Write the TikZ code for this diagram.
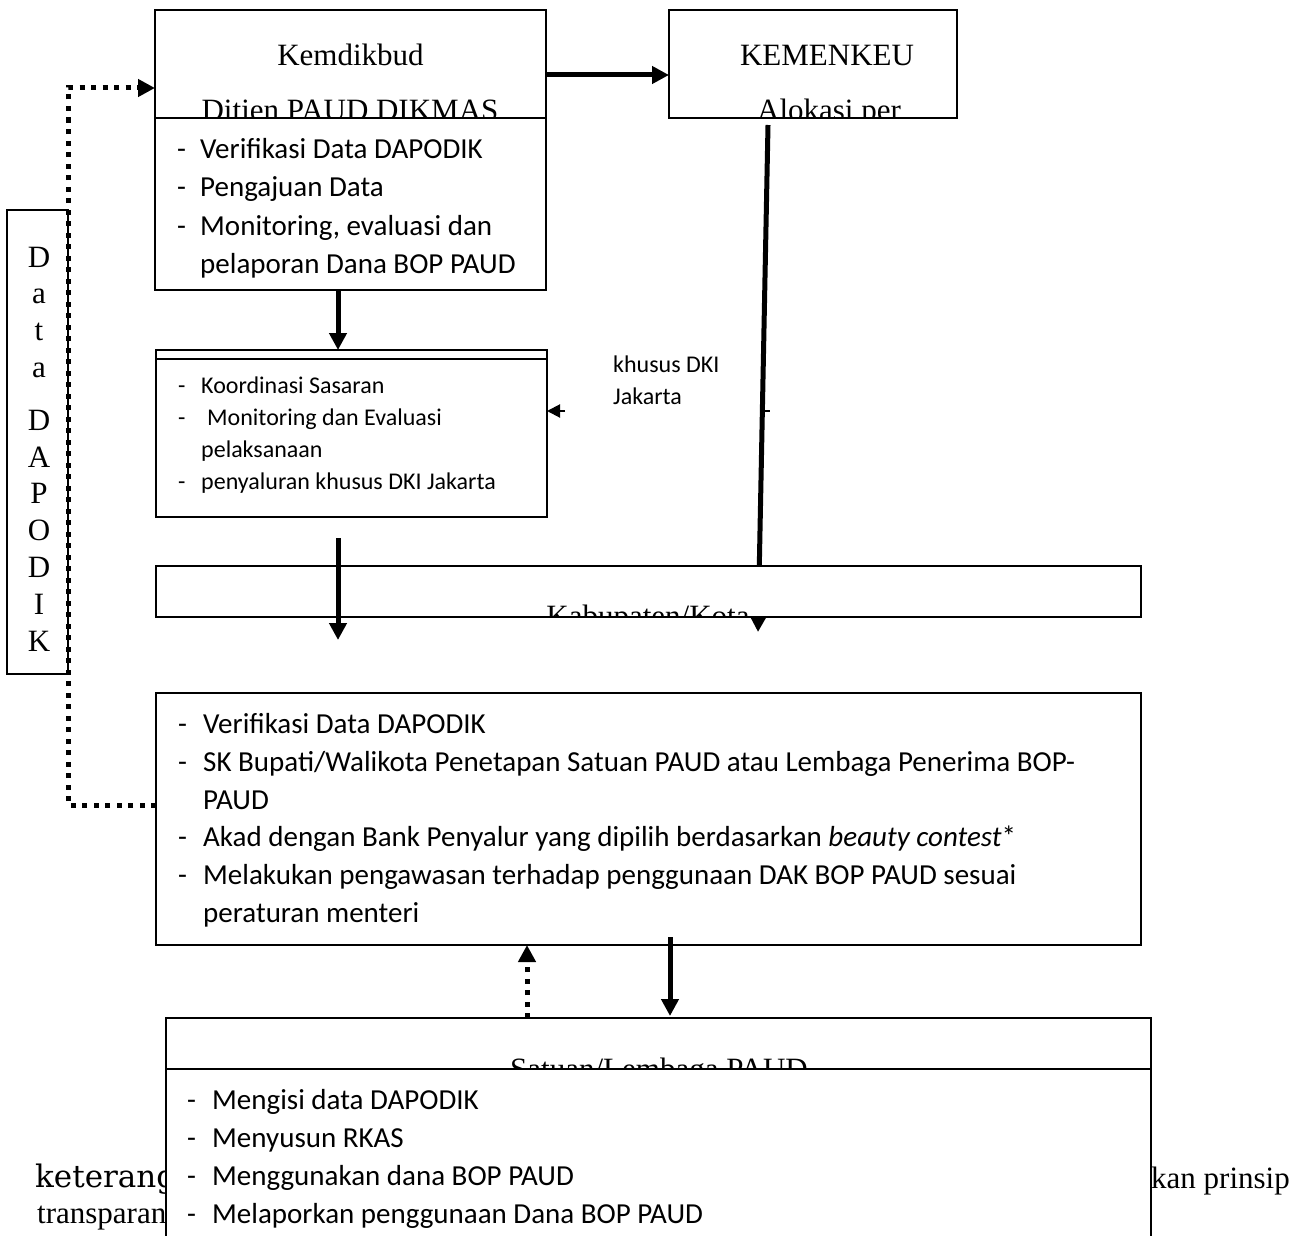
\documentclass[tikz,border=0pt]{standalone}
\usepackage{fontspec}
\setmainfont{Liberation Serif}
\newfontfamily\calfont{Carlito}
\newfontfamily\dvfont{DejaVu Serif}
\usetikzlibrary{arrows.meta}
\tikzset{
 boxn/.style={draw, line width=1.8pt, fill=white, inner sep=0pt, outer sep=0pt, anchor=north west},
 ttl/.style={font=\fontsize{31}{37}\selectfont, inner sep=0pt, anchor=base},
 lst/.style={font=\calfont\fontsize{29}{38}\selectfont, inner sep=0pt, anchor=base west},
 lsts/.style={font=\calfont\fontsize{24}{32}\selectfont, inner sep=0pt, anchor=base west},
 bigarrow/.style={line width=5pt, -{Triangle[length=17pt,width=17pt]}},
 dotarrow/.style={line width=5pt, dash pattern=on 5pt off 6.5pt, -{Triangle[length=17pt,width=17pt]}},
}
\begin{document}
\begin{tikzpicture}[x=1pt,y=-1pt]
\useasboundingbox (0,0) rectangle (1303,1236);
\clip (0,0) rectangle (1303,1236);

% background text partly hidden by the last box
\node[font=\dvfont\fontsize{31}{36}\selectfont, inner sep=0pt, anchor=base west] (ket) at (35,1187) {keterang};
\node[font=\fontsize{31}{37}\selectfont, inner sep=0pt, anchor=base west] (trans) at (37,1223) {transparan};
\node[font=\fontsize{31}{37}\selectfont, inner sep=0pt, anchor=base west] (prinsip) at (1151,1188) {kan prinsip};

% KEMENKEU line (under Kabupaten box)
\coordinate (k1) at (768,125);
\coordinate (k2) at (758,632);
\draw[bigarrow] (k1) -- (k2);

% Kemdikbud
\node[boxn, minimum width=391pt, minimum height=108pt] (kemT) at (155,10) {};
\begin{scope}
\clip (155,10) rectangle (546,117);
\node[ttl] (kemt1) at (350.5,66) {Kemdikbud};
\node[ttl] (kemt2) at (350,121) {Ditjen PAUD DIKMAS};
\end{scope}
\node[boxn, minimum width=391pt, minimum height=172pt] (kemL) at (155,118) {};
\foreach \t/\yy/\dd [count=\i] in {{Verifikasi Data DAPODIK}/158/1, {Pengajuan Data}/196.5/1, {Monitoring, evaluasi dan}/235/1, {pelaporan Dana BOP PAUD}/273/0}{
  \ifnum\dd=1 \node[lst] (kemd\i) at (177,\yy) {-};\fi
  \node[lst] (keml\i) at (200,\yy) {\t};
}

% KEMENKEU
\node[boxn, minimum width=288pt, minimum height=108pt] (kemen) at (669,10) {};
\begin{scope}
\clip (669,10) rectangle (957,117);
\node[ttl] (ken1) at (827,66) {KEMENKEU};
\node[ttl] (ken2) at (829,121) {Alokasi per};
\end{scope}
\draw[bigarrow] ([yshift=-11pt]kemT.east) -- ([yshift=-11pt]kemen.west);

% Data DAPODIK
\node[boxn, minimum width=61pt, minimum height=464pt] (dap) at (7,210) {};
\foreach \c/\yy [count=\i] in {D/267,a/303,t/340,a/377,D/430,A/467,P/503,O/540,D/577,I/614,K/651}
  \node[ttl] (dl\i) at (39,\yy) {\c};

% Koordinasi box
\node[boxn, minimum width=391pt, minimum height=167pt] (koord) at (156,350) {};
\draw[line width=1.8pt] ([yshift=-9pt]koord.north west) -- ([yshift=-9pt]koord.north east);
\node[lsts] (kd1) at (178,393) {-};
\node[lsts] (kl1) at (201,393) {Koordinasi Sasaran};
\node[lsts] (kd2) at (178,425) {-};
\node[lsts] (kl2) at (207,425) {Monitoring dan Evaluasi};
\node[lsts] (kl3) at (201,457) {pelaksanaan};
\node[lsts] (kd4) at (178,489) {-};
\node[lsts] (kl4) at (201,489) {penyaluran khusus DKI Jakarta};
\node[lsts] (dki1) at (613,372) {khusus DKI};
\node[lsts] (dki2) at (613,404) {Jakarta};
\draw[bigarrow] ([xshift=-12.5pt]kemL.south) -- ([xshift=-12.5pt]kemL.south |- koord.north);
\draw[line width=2pt, -{Triangle[length=13pt,width=13pt]}] ([xshift=18pt,yshift=22.5pt]koord.east) -- ([yshift=22.5pt]koord.east);
\coordinate (tk1) at (764,411);
\coordinate (tk2) at (770,411);
\draw[line width=2pt] (tk1) -- (tk2);

% Kabupaten/Kota
\node[boxn, minimum width=985pt, minimum height=51pt] (kab) at (156,566) {};
\begin{scope}
\clip (156,566) rectangle (1141,616);
\node[ttl] (kabt) at (648,626) {Kabupaten/Kota};
\end{scope}
\draw[bigarrow] ([xshift=-13.5pt,yshift=-21pt]koord.south) -- ([xshift=-13.5pt,yshift=-23pt]koord.south |- kab.south);

% Kabupaten details
\node[boxn, minimum width=985pt, minimum height=252pt] (kabD) at (156,693) {};
\node[lst] (bd1) at (178,733) {-};
\node[lst] (bl1) at (203,733) {Verifikasi Data DAPODIK};
\node[lst] (bd2) at (178,771) {-};
\node[lst] (bl2) at (203,771) {SK Bupati/Walikota Penetapan Satuan PAUD atau Lembaga Penerima BOP-};
\node[lst] (bl3) at (203,809) {PAUD};
\node[lst] (bd4) at (178,846) {-};
\node[lst] (bl4) at (203,846) {Akad dengan Bank Penyalur yang dipilih berdasarkan \textit{beauty contest}*};
\node[lst] (bd5) at (178,884) {-};
\node[lst] (bl5) at (203,884) {Melakukan pengawasan terhadap penggunaan DAK BOP PAUD sesuai};
\node[lst] (bl6) at (203,922) {peraturan menteri};

\draw[dotarrow] ([yshift=-112pt]kabD.north west) -- ++(-88,0) |- ([yshift=-78pt]kemT.north west);

% Satuan/Lembaga PAUD
\node[boxn, minimum width=985pt, minimum height=51pt] (satT) at (166,1018) {};
\begin{scope}
\clip (166,1018) rectangle (1151,1068);
\node[ttl] (satt) at (659,1079) {Satuan/Lembaga PAUD};
\end{scope}
\node[boxn, minimum width=985pt, minimum height=200pt] (satL) at (166,1069) {};
\node[lst] (sd1) at (187,1109) {-};
\node[lst] (sl1) at (212,1109) {Mengisi data DAPODIK};
\node[lst] (sd2) at (187,1147) {-};
\node[lst] (sl2) at (212,1147) {Menyusun RKAS};
\node[lst] (sd3) at (187,1185) {-};
\node[lst] (sl3) at (212,1185) {Menggunakan dana BOP PAUD};
\node[lst] (sd4) at (187,1223) {-};
\node[lst] (sl4) at (212,1223) {Melaporkan penggunaan Dana BOP PAUD};

\draw[bigarrow] ([xshift=21.5pt,yshift=8pt]kabD.south) -- ([xshift=21.5pt,yshift=2pt]kabD.south |- satT.north);
\draw[dotarrow] ([xshift=-121.5pt]kabD.south |- satT.north) -- ([xshift=-121.5pt]kabD.south);
\end{tikzpicture}
\end{document}
